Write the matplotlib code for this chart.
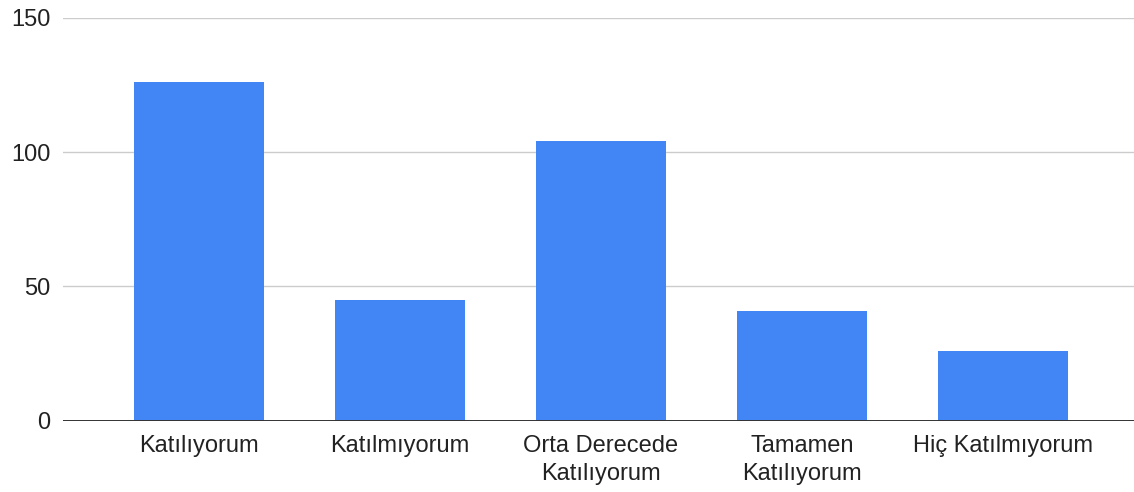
import numpy as np
import matplotlib.pyplot as plt

categories = ["Katılıyorum", "Katılmıyorum", "Orta Derecede\nKatılıyorum", "Tamamen\nKatılıyorum", "Hiç Katılmıyorum"]
counts = [126, 45, 104, 41, 26]
y_ticks = [0, 50, 100, 150]

plt.rcParams['font.family'] = ['Liberation Sans', 'DejaVu Sans']

fig = plt.figure(figsize=(11.34, 4.92), dpi=100)
ax = fig.add_axes([63 / 1134, 1 - 420.7 / 492, 1 - 63 / 1134, (420.7 - 18) / 492])

x = np.arange(len(categories))
ax.bar(x, counts, width=0.647, color='#4285F4', zorder=3)

ax.set_ylim(0, 150)
ax.set_xlim(-0.677, 4.652)
ax.set_yticks(y_ticks)
ax.set_xticks(x)
ax.set_xticklabels(categories, linespacing=1.35)
ax.yaxis.grid(True, color='#cccccc', linewidth=1.0, zorder=0)
ax.axhline(0, color='#333333', linewidth=1.4, zorder=4)

for side in ['top', 'right', 'left', 'bottom']:
    ax.spines[side].set_visible(False)
ax.tick_params(axis='both', length=0, labelsize=17, labelcolor='#222222')
ax.tick_params(axis='y', pad=9)
ax.tick_params(axis='x', pad=10)

fig.savefig('out.png', dpi=100)
